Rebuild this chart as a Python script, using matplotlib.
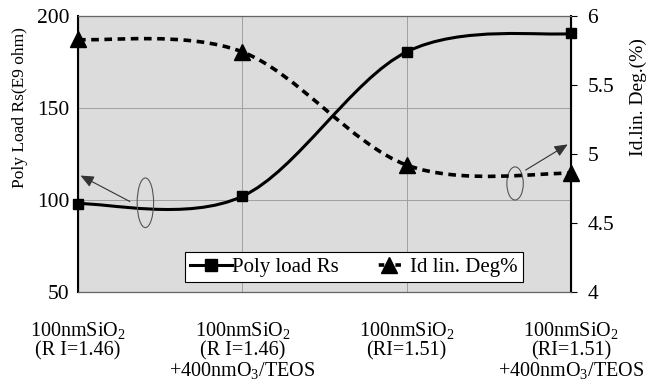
import numpy as np
import matplotlib
matplotlib.use("Agg")
import matplotlib.pyplot as plt
from matplotlib.path import Path
from matplotlib.patches import PathPatch, Ellipse
from matplotlib.lines import Line2D

plt.rcParams['font.family'] = ['Liberation Serif', 'DejaVu Serif']
plt.rcParams['mathtext.fontset'] = 'custom'
plt.rcParams['mathtext.rm'] = 'Liberation Serif'
plt.rcParams['mathtext.it'] = 'Liberation Serif:italic'
plt.rcParams['lines.scale_dashes'] = False

# process splits
categories = ['100nmSiO$_2$\n(R I=1.46)',
              '100nmSiO$_2$\n(R I=1.46)\n+400nmO$_3$/TEOS',
              '100nmSiO$_2$\n(RI=1.51)',
              '100nmSiO$_2$\n(RI=1.51)\n+400nmO$_3$/TEOS']
poly_rs = [98, 102, 180.5, 190.5]      # E9 ohm
id_deg = [5.83, 5.74, 4.92, 4.86]      # %


def smooth_path(x, y):
    # Catmull-Rom style bezier through the points (spreadsheet "smoothed line")
    x = np.asarray(x, float)
    y = np.asarray(y, float)
    pts = np.column_stack([x, y])
    n = len(pts)
    verts = [pts[0]]
    codes = [Path.MOVETO]
    for i in range(n - 1):
        p_prev = pts[i - 1] if i > 0 else pts[i]
        p_next = pts[i + 2] if i + 2 < n else pts[i + 1]
        c1 = pts[i] + (pts[i + 1] - p_prev) / 6.0
        c2 = pts[i + 1] - (p_next - pts[i]) / 6.0
        verts += [c1, c2, pts[i + 1]]
        codes += [Path.CURVE4] * 3
    return Path(verts, codes)


x = np.arange(len(categories))

fig = plt.figure(figsize=(6.54, 3.86), dpi=100)
ax = fig.add_axes([0.1193, 0.2435, 0.7537, 0.715])
ax.set_facecolor('#dcdcdc')
ax2 = ax.twinx()

ax.set_xlim(0, 3)
ax.set_ylim(50, 200)
ax2.set_ylim(4, 6)

# grid
for v in [100, 150]:
    ax.axhline(v, color='#a0a0a0', lw=0.7, zorder=1)
for v in [1, 2]:
    ax.axvline(v, color='#a0a0a0', lw=0.7, zorder=1)

# Poly load Rs (left axis)
ax.add_patch(PathPatch(smooth_path(x, poly_rs), fill=False, lw=2.2,
                       edgecolor='black', zorder=3, clip_on=False))
ax.plot(x, poly_rs, 's', color='black', ms=7, zorder=4, clip_on=False)

# Id lin. degradation (right axis)
ax2.add_patch(PathPatch(smooth_path(x, id_deg), fill=False, lw=2.6,
                        edgecolor='black', linestyle=(0, (5.5, 4)),
                        zorder=3, clip_on=False))
ax2.plot(x, id_deg, '^', color='black', ms=11, zorder=4, clip_on=False)

# ellipses + arrows pointing each curve to its axis
ax.add_patch(Ellipse((0.41, 98.5), 0.1, 27, fill=False, edgecolor='#555555',
                     lw=0.8, zorder=5))
ax.annotate('', xy=(0.0, 114), xytext=(0.33, 98.5),
            arrowprops=dict(arrowstyle='-|>,head_length=0.8,head_width=0.35',
                            color='#333333', lw=0.8), zorder=5)
ax.add_patch(Ellipse((2.66, 109), 0.1, 18, fill=False, edgecolor='#555555',
                     lw=0.8, zorder=5))
ax.annotate('', xy=(2.995, 131), xytext=(2.71, 115.5),
            arrowprops=dict(arrowstyle='-|>,head_length=0.8,head_width=0.35',
                            color='#333333', lw=0.8), zorder=5, annotation_clip=False)

# axes styling
ax.set_xticks(x)
ax.set_xticklabels(categories, fontsize=14.5, linespacing=1.0, va='top')
ax.tick_params(axis='x', length=0, pad=20)
ax.set_yticks([50, 100, 150, 200])
ax.tick_params(axis='y', length=0, labelsize=15.5, pad=6)
ax2.set_yticks([4, 4.5, 5, 5.5, 6])
ax2.set_yticklabels(['4', '4.5', '5', '5.5', '6'])
ax2.tick_params(axis='y', length=4, direction='out', labelsize=15.5, pad=8)

for s in ['top', 'bottom']:
    ax2.spines[s].set_color('#666666')
    ax2.spines[s].set_linewidth(0.8)
ax2.spines['left'].set_linewidth(1.5)
ax2.spines['right'].set_linewidth(1.5)

ax.set_ylabel('Poly Load Rs(E9 ohm)', fontsize=12.5)
ax.yaxis.set_label_coords(-0.101, 0.67)
ax2.set_ylabel('Id.lin. Deg.(%)', fontsize=14, rotation=90)
ax2.yaxis.set_label_coords(1.12, 0.707)

# legend: second handle is a short "-▲-"
handles = [Line2D([], [], color='black', lw=2.2, marker='s', ms=9),
           Line2D([], [], color='black', lw=2.6,
                  linestyle=(23, (4, 8, 4, 14)), marker='^', ms=12)]
leg = ax2.legend(handles, ['Poly load Rs', 'Id lin. Deg%'], loc='lower left',
                 bbox_to_anchor=(0.217, 0.036, 0.686, 0.127), mode='expand',
                 ncol=2, fontsize=15, fancybox=False, framealpha=1,
                 edgecolor='black', handlelength=2.0, handletextpad=0.0,
                 columnspacing=0.6, borderpad=0.25, borderaxespad=0)
leg.get_frame().set_linewidth(0.8)

fig.savefig('out.png', dpi=100)
